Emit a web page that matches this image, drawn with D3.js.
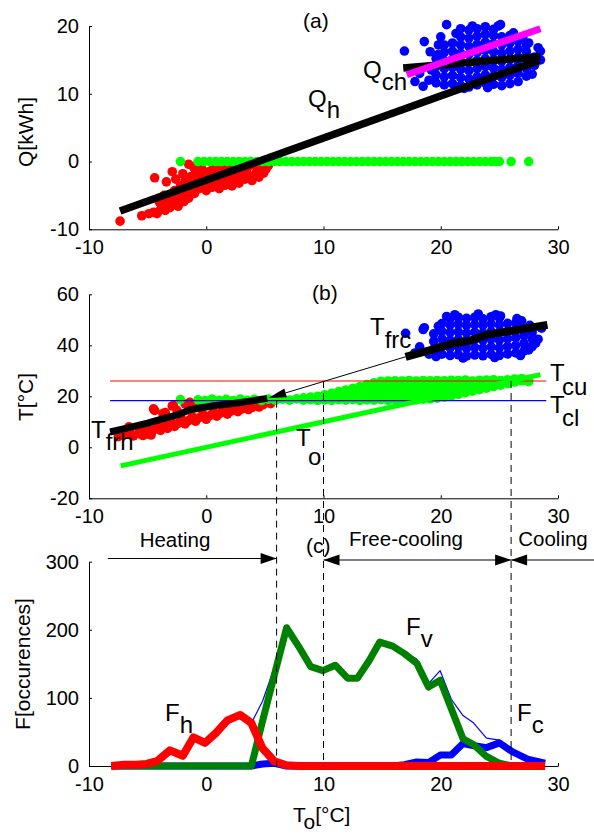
<!DOCTYPE html>
<html><head><meta charset="utf-8">
<script src="https://cdn.jsdelivr.net/npm/d3@7"></script>
<style>
body{margin:0;background:#fff}
svg{display:block}
text{font-family:"Liberation Sans",Arial,sans-serif;fill:#000}
</style>
</head><body><svg id="c" width="594" height="834"></svg>
<script>
// ---------------- data ----------------
const xTicks = [-10, 0, 10, 20, 30];
const yTicksA = [-10, 0, 10, 20];
const yTicksB = [-20, 0, 20, 40, 60];
const yTicksC = [0, 100, 200, 300];

// panel (a): Q vs To
const redA = [
[-7.35,-8.8],[-5.5,-8.0],[-4.9,-7.7],[-4.5,-7.5],[-4.2,-7.7],[-4.4,-2.4],[-3.4,-3.0],[-2.9,-1.5],[-1.5,-0.4],[-2.0,-1.8],
[-3.9,-7.1],[-3.7,-6.4],[-3.5,-7.2],[-3.3,-5.9],[-3.1,-6.8],[-3.0,-5.0],[-2.8,-6.3],[-2.7,-4.3],[-2.5,-5.6],[-2.4,-6.6],
[-2.2,-3.6],[-2.1,-4.8],[-1.9,-5.9],[-1.8,-2.9],[-1.6,-4.1],[-1.5,-5.4],[-1.3,-2.2],[-1.2,-3.4],[-1.0,-4.7],[-0.9,-1.5],
[-0.7,-2.8],[-0.6,-4.0],[-0.4,-1.0],[-0.3,-2.1],[-0.1,-3.4],[0.0,-4.3],[0.2,-1.5],[0.3,-2.7],[0.5,-3.8],[0.6,-0.8],
[0.8,-2.0],[0.9,-3.1],[1.1,-4.0],[1.2,-1.3],[1.4,-2.5],[1.6,-3.5],[1.7,-0.7],[1.9,-1.8],[2.1,-2.9],[2.2,-3.6],
[2.4,-1.2],[2.6,-2.3],[2.8,-3.2],[2.9,-0.6],[3.1,-1.7],[3.3,-2.6],[3.5,-1.0],[3.7,-2.1],[3.9,-2.8],[4.1,-0.5],
[4.3,-1.5],[4.5,-2.3],[4.7,-0.9],[4.9,-1.7],[5.1,-1.1],[5.3,-0.6],[-0.5,-0.3],[0.7,-0.2],[1.8,-0.3],[3.0,-0.2],
[-2.6,-2.6],[-3.6,-5.0],[-4.0,-6.0],[-1.1,-0.8]
];
const greenAx = [-2.2,-0.7,-0.2,0.3,0.8,1.3,1.8,2.3,2.8,3.3,3.8,4.3,4.8,5.3,5.8,6.3,6.8,7.3,7.8,8.3,8.8,9.3,9.8,10.3,10.8,
11.3,11.8,12.3,12.8,13.3,13.8,14.3,14.8,15.3,15.8,16.3,16.8,17.3,17.8,18.3,18.8,19.3,19.8,20.3,20.8,21.3,21.8,22.3,22.8,
23.3,23.8,24.3,24.6,25.0,26.0,27.5];
const greenAq = 0;
const blueA = [
[16.9,16.3],[18.6,17.7],[19.8,17.2],[20.5,20.2],[21.7,19.6],[25.1,20.2],[27.5,17.5],[28.5,16.3],[28.5,15.0],[17.8,11.8],[18.5,11.1],[18.2,13.0],[19.0,12.0],[19.8,15.8],
[19.2,13.5],[20.0,18.4],[21.3,18.9],[22.0,10.8],[24.0,10.9],[26.2,19.0],[27.0,18.3],[27.8,12.9],[28.3,16.8],[22.7,20.0],[24.9,20.0],[19.1,16.2],
[19.6,11.6],[19.6,12.8],[19.6,14.0],[19.6,15.2],
[20.3,11.3],[20.3,12.5],[20.3,13.7],[20.3,14.9],[20.3,16.1],[20.3,17.2],
[21.0,11.5],[21.0,12.7],[21.0,13.9],[21.0,15.1],[21.0,16.3],[21.0,17.5],
[21.7,11.2],[21.7,12.4],[21.7,13.6],[21.7,14.8],[21.7,16.0],[21.7,17.2],[21.7,18.4],
[22.4,11.0],[22.4,12.2],[22.4,13.4],[22.4,14.6],[22.4,15.8],[22.4,17.0],[22.4,18.2],[22.4,19.4],
[23.1,11.3],[23.1,12.5],[23.1,13.7],[23.1,14.9],[23.1,16.1],[23.1,17.3],[23.1,18.5],[23.1,19.6],
[23.8,11.6],[23.8,12.8],[23.8,14.0],[23.8,15.2],[23.8,16.4],[23.8,17.6],[23.8,18.8],[23.8,19.9],
[24.5,11.4],[24.5,12.6],[24.5,13.8],[24.5,15.0],[24.5,16.2],[24.5,17.4],[24.5,18.6],[24.5,19.5],
[25.2,11.2],[25.2,12.4],[25.2,13.6],[25.2,14.8],[25.2,16.0],[25.2,17.2],[25.2,18.4],
[25.9,11.5],[25.9,12.7],[25.9,13.9],[25.9,15.1],[25.9,16.3],[25.9,17.5],[25.9,18.6],
[26.6,11.8],[26.6,13.0],[26.6,14.2],[26.6,15.4],[26.6,16.6],[26.6,17.8],
[27.3,12.6],[27.3,13.8],[27.3,15.0],[27.3,16.2],[27.3,17.2],
[28.0,14.2],[28.0,15.4]
];
const qhLine = [[-7.35,-7.3],[28.4,14.9]];
const qchLine = [[16.8,13.8],[28.5,15.5]];
const magLine = [[17.1,12.8],[28.5,19.6]];

// panel (b): T vs To
const redB = [
[-7.5,4.2],[-7.0,5.0],[-6.5,5.8],[-6.2,4.5],[-5.8,5.3],[-5.4,4.6],[-5.0,5.2],[-4.7,4.8],[-5.7,7.2],[-5.1,7.8],
[-4.5,6.8],[-4.2,8.4],[-3.9,6.6],[-3.6,9.0],[-3.3,7.4],[-3.0,10.0],[-2.7,8.2],[-2.4,9.4],[-2.1,11.0],[-1.8,9.2],
[-1.5,10.5],[-1.2,12.0],[-0.9,10.2],[-0.6,11.6],[-0.3,13.0],[0.0,11.0],[0.3,12.4],[0.6,13.8],[0.9,12.2],[1.2,13.4],
[1.5,14.8],[1.8,13.0],[2.1,14.2],[2.4,15.6],[2.7,14.0],[3.0,15.0],[3.3,16.2],[3.6,14.8],[3.9,15.6],[4.2,16.8],
[4.5,15.8],[4.8,16.6],[5.1,17.4],[5.5,17.1],
[-4.4,14.5],[-3.5,13.6],[-2.9,16.2],[-1.8,17.0],[-1.4,17.6],[-1.0,16.5],[-0.5,17.2],[-2.5,14.5],[-0.2,16.4],[-6.6,8.0],
[-3.7,13.2],[-4.5,15.1],[-2.8,16.4]
];
const greenB = [
[-2.2,18.7],[-0.7,18.6],[-0.1,18.3],[0.5,18.9],[1.1,18.4],[1.7,18.8],[2.3,18.3],[2.9,18.9],[3.5,18.4],[4.1,18.8],
[4.7,18.3],[5.3,18.9],[5.9,18.4],[6.5,18.9],[7.1,18.5],[7.7,19.0],
[8.3,18.5],[8.3,19.4],[8.9,18.7],[8.9,19.7],[9.5,18.4],[9.5,20.0],[10.1,18.6],[10.1,20.6],[10.7,18.4],[10.7,21.2],
[11.3,18.7],[11.3,20.4],[11.3,21.9],[11.9,18.5],[11.9,20.5],[11.9,22.5],[12.5,18.7],[12.5,20.9],[12.5,23.1],
[13.1,18.4],[13.1,20.8],[13.1,23.8],[13.7,18.6],[13.7,21.2],[13.7,23.6],[13.7,24.6],
[14.3,18.5],[14.3,21.0],[14.3,23.5],[14.3,25.3],[14.9,18.7],[14.9,21.3],[14.9,23.9],[14.9,25.9],
[15.5,18.4],[15.5,21.0],[15.5,23.6],[15.5,26.0],[16.1,18.7],[16.1,21.3],[16.1,23.9],[16.1,26.1],
[16.7,18.5],[16.7,21.1],[16.7,23.7],[16.7,26.0],[17.3,18.8],[17.3,21.4],[17.3,24.0],[17.3,26.2],
[17.9,18.6],[17.9,21.2],[17.9,23.8],[17.9,26.0],[18.5,18.9],[18.5,21.5],[18.5,24.1],[18.5,26.2],
[19.1,19.0],[19.1,21.6],[19.1,24.0],[19.1,26.1],[19.7,19.3],[19.7,21.8],[19.7,24.3],[19.7,26.2],
[20.3,19.7],[20.3,22.1],[20.3,24.5],[20.3,26.1],[20.9,20.2],[20.9,22.6],[20.9,24.8],[20.9,26.3],
[21.5,20.8],[21.5,23.1],[21.5,25.2],[21.5,26.2],[22.1,21.4],[22.1,23.6],[22.1,25.5],[22.1,26.4],
[22.7,22.0],[22.7,24.1],[22.7,26.0],[23.3,22.6],[23.3,24.6],[23.3,26.3],[23.9,23.2],[23.9,25.0],[23.9,26.4],
[24.5,23.8],[24.5,25.5],[24.5,26.5],[25.1,24.4],[25.1,26.2],[25.7,25.0],[25.7,26.5],[26.3,25.6],[26.3,26.8],
[26.9,26.1],[26.9,27.0],[27.5,26.6],[27.5,25.8]
];
const blueB = [
[18.6,46.9],[20.5,51.3],[25.1,51.5],[18.2,39.4],[28.3,42.4],[28.6,46.7],[17.8,37.0],[19.0,36.5],[26.5,50.5],[17.0,44.7],[18.5,46.2],
[19.8,47.5],[21.2,52.0],[23.2,52.3],[24.7,52.0],[26.9,49.6],[27.6,47.8],[28.1,40.9],[19.6,35.6],[21.9,35.0],[24.6,35.2],[26.8,36.0],[27.5,38.2],
[19.4,38.5],[19.4,41.5],[19.4,44.5],
[20.1,36.5],[20.1,39.5],[20.1,42.5],[20.1,45.5],[20.1,48.5],
[20.8,36.0],[20.8,39.0],[20.8,42.0],[20.8,45.0],[20.8,48.0],[20.8,50.5],
[21.5,36.3],[21.5,39.3],[21.5,42.3],[21.5,45.3],[21.5,48.3],[21.5,51.0],
[22.2,35.8],[22.2,38.8],[22.2,41.8],[22.2,44.8],[22.2,47.8],[22.2,50.6],
[22.9,36.2],[22.9,39.2],[22.9,42.2],[22.9,45.2],[22.9,48.2],[22.9,51.0],
[23.6,35.9],[23.6,38.9],[23.6,41.9],[23.6,44.9],[23.6,47.9],[23.6,50.4],
[24.3,36.4],[24.3,39.4],[24.3,42.4],[24.3,45.4],[24.3,48.4],[24.3,51.2],
[25.0,36.0],[25.0,39.0],[25.0,42.0],[25.0,45.0],[25.0,48.0],[25.0,50.8],
[25.7,36.6],[25.7,39.6],[25.7,42.6],[25.7,45.6],[25.7,48.6],
[26.4,37.0],[26.4,40.0],[26.4,43.0],[26.4,46.0],[26.4,48.8],
[27.1,37.8],[27.1,40.8],[27.1,43.8],[27.1,46.8],
[27.8,39.5],[27.8,42.5],[27.8,45.0]
];
const toLine = [[-7.3,-7.3],[28.5,28.5]];
const tcu = 26.0, tcl = 18.3;
const limitSpan = [-8.2, 29.0];
const tfrh = [[-8.2,6.0],[-6.6,7.7],[-5.0,9.5],[-3.6,11.3],[-2.3,12.9],[-1.5,14.6],[-0.5,15.4],[0.6,16.3],[2.3,17.2],[3.9,18.2],[5.2,19.2]];
const tfrc = [[17.0,35.5],[19.1,38.1],[21.1,40.8],[22.5,41.8],[23.9,44.1],[26.2,45.8],[29.1,48.0]];
const frcArrow = [[17.0,35.5],[5.3,19.3]];

// switch points (dashed lines)
const dashX = [6, 10, 26];
const dashTop = [18.3, 26, 26];

// panel (c): histograms
const binsC = [-8.1,-7.0,-6.0,-5.1,-4.2,-3.1,-2.0,-1.1,-0.1,0.8,1.8,2.9,3.85,4.8,5.8,6.85,7.9,8.9,9.95,11.0,12.05,12.9,13.9,14.8,15.9,16.9,17.95,18.95,19.95,20.9,21.9,22.75,23.9,25.0,26.1,27.4,28.9];
const fh  = [0,2,2,3,7,23,15,42,34,48,67,75,63,26,7,1,0,0,0,0,0,0,0,0,0,0,0,0,0,0,0,0,0,0,0,0,0];
const fv  = [0,0,0,0,0,0,0,0,0,0,0,0,0,66,133,203,175,146,140,148,129,129,155,182,176,165,151,116,126,84,40,32,14,4,0,0,0];
const fc  = [0,0,0,0,0,0,0,0,0,0,0,0,0,3,4,0,0,0,0,0,0,0,0,0,0,2,6,5,16,16,33,30,27,34,21,10,4];
const ftot= [0,2,2,3,7,23,15,42,34,48,67,75,63,95,144,203,175,146,140,148,129,129,155,182,176,167,157,121,140,98,74,64,41,38,21,10,4];

const regions = [
  {name:"Heating", from:-8.4, to:6, heads:["end"]},
  {name:"Free-cooling", from:10, to:26, heads:["start","end"]},
  {name:"Cooling", from:33.1, to:26, heads:["end"]}
];

// ---------------- drawing ----------------
const svg = d3.select('#c');
const X  = d3.scaleLinear().domain([-10,30]).range([89,558]);
const Ya = d3.scaleLinear().domain([-10,20]).range([229.3,26]);
const Yb = d3.scaleLinear().domain([-20,60]).range([498.3,294.3]);
const Yc = d3.scaleLinear().domain([0,300]).range([766,561.7]);
const FONT = '"Liberation Sans", Arial, sans-serif';
const R = 4.8;

function drawAxes(Y, yt) {
  const gx = svg.append('g').attr('transform', `translate(0,${Y.range()[0]})`)
    .call(d3.axisBottom(X).tickValues(xTicks).tickSize(-3).tickSizeOuter(0).tickPadding(11).tickFormat(d => String(d)));
  const gy = svg.append('g').attr('transform', `translate(${X.range()[0]},0)`)
    .call(d3.axisLeft(Y).tickValues(yt).tickSize(-3).tickSizeOuter(0).tickPadding(10).tickFormat(d => String(d)));
  [gx, gy].forEach(g => {
    g.attr('font-size', 20).attr('font-family', FONT);
    g.selectAll('path,line').attr('stroke', '#000').attr('stroke-width', 1);
    g.selectAll('text').attr('fill', '#000');
  });
}
function dots(data, Y, color) {
  svg.append('g').selectAll('circle').data(data).join('circle')
    .attr('cx', d => X(d[0])).attr('cy', d => Y(d[1])).attr('r', R).attr('fill', color);
}
function path(data, Y, color, w) {
  svg.append('path').datum(data)
    .attr('d', d3.line().x(d => X(d[0])).y(d => Y(d[1])))
    .attr('fill', 'none').attr('stroke', color).attr('stroke-width', w)
    .attr('stroke-linejoin', 'round').attr('stroke-linecap', 'butt');
}
function label(x, y, main, sub, size, dy) {
  const t = svg.append('text').attr('x', x).attr('y', y).attr('font-size', size);
  t.append('tspan').text(main);
  t.append('tspan').attr('dy', dy).text(sub);
  return t;
}
function head(x, y, dir, len, hw) {
  svg.append('path')
    .attr('d', `M${x},${y}L${x - dir*len},${y - hw}L${x - dir*len},${y + hw}Z`)
    .attr('fill', '#000');
}

// ---- panel (a)
drawAxes(Ya, yTicksA);
dots(redA, Ya, '#ff0000');
dots(greenAx.map(x => [x, greenAq]), Ya, '#00ff00');
dots(blueA, Ya, '#0000ff');
path(qhLine, Ya, '#000', 7.5);
path(qchLine, Ya, '#000', 7.5);
path(magLine, Ya, '#ff00ff', 7);
svg.append('text').attr('x', 303).attr('y', 28).attr('font-size', 21).text('(a)');
label(363, 78, 'Q', 'ch', 24, 12);
label(308, 107, 'Q', 'h', 24, 11);

// ---- panel (b)
drawAxes(Yb, yTicksB);
dots(redB, Yb, '#ff0000');
dots(greenB, Yb, '#00ff00');
dots(blueB, Yb, '#0000ff');
path(limitSpan.map(x => [x, tcu]), Yb, '#ff0000', 1.2);
path(limitSpan.map(x => [x, tcl]), Yb, '#0000ff', 1.2);
path(toLine, Yb, '#00ff00', 5);
path(tfrh, Yb, '#000', 7);
path(tfrc, Yb, '#000', 8);
// thin arrow linking Tfrc to Tfrh
{
  const [a, b] = frcArrow;
  const x1 = X(a[0]), y1 = Yb(a[1]), x2 = X(b[0]), y2 = Yb(b[1]);
  const ang = Math.atan2(y2 - y1, x2 - x1), L = 18, H = 4.5;
  const bx = x2 - L*Math.cos(ang), by = y2 - L*Math.sin(ang);
  svg.append('line').attr('x1', x1).attr('y1', y1).attr('x2', bx).attr('y2', by).attr('stroke', '#000').attr('stroke-width', 1);
  svg.append('path').attr('d', `M${x2},${y2}L${bx - H*Math.sin(ang)},${by + H*Math.cos(ang)}L${bx + H*Math.sin(ang)},${by - H*Math.cos(ang)}Z`).attr('fill', '#000');
}
svg.append('text').attr('x', 312).attr('y', 300).attr('font-size', 21).text('(b)');
label(370, 335, 'T', 'frc', 24, 13);
label(550, 381, 'T', 'cu', 24, 14);
label(550, 413, 'T', 'cl', 24, 13);
label(296, 446, 'T', 'o', 24, 19);
label(91, 438, 'T', 'frh', 24, 12);

// ---- panel (c)
drawAxes(Yc, yTicksC);
const series = (vals) => binsC.map((x, i) => [x, vals[i]]);
path(series(ftot), Yc, '#0000ff', 1.2);
path(series(fc), Yc, '#0000ff', 7);
path(series(fv), Yc, '#008000', 7);
path(series(fh), Yc, '#ff0000', 8);
label(165, 721, 'F', 'h', 24, 12);
label(406, 635, 'F', 'v', 24, 12);
label(517, 721, 'F', 'c', 24, 12);

// dashed switch lines
dashX.forEach((x, i) => {
  svg.append('line').attr('x1', X(x)).attr('x2', X(x)).attr('y1', Yb(dashTop[i])).attr('y2', Yc(0))
    .attr('stroke', '#000').attr('stroke-width', 1).attr('stroke-dasharray', '7,5');
});

// region arrows
const arrowY = [558.5, 560, 560];
regions.forEach((r, i) => {
  const x1 = X(r.from), x2 = X(r.to), y = arrowY[i];
  svg.append('line').attr('x1', x1).attr('x2', x2).attr('y1', y).attr('y2', y).attr('stroke', '#000').attr('stroke-width', 1);
  const dir = Math.sign(x2 - x1);
  if (r.heads.includes('end')) head(x2, y, dir, 16, 5.5);
  if (r.heads.includes('start')) head(x1, y, -dir, 16, 5.5);
});
svg.append('text').attr('x', 175).attr('y', 547).attr('font-size', 20.5).attr('text-anchor', 'middle').text('Heating');
svg.append('text').attr('x', 406).attr('y', 546).attr('font-size', 20.5).attr('text-anchor', 'middle').text('Free-cooling');
svg.append('text').attr('x', 553).attr('y', 546).attr('font-size', 20.5).attr('text-anchor', 'middle').text('Cooling');
svg.append('text').attr('x', 306).attr('y', 553).attr('font-size', 21).text('(c)');

// axis labels
svg.append('text').attr('transform', 'translate(32.5,132) rotate(-90)').attr('text-anchor', 'middle').attr('font-size', 21).text('Q[kWh]');
svg.append('text').attr('transform', 'translate(32.5,397) rotate(-90)').attr('text-anchor', 'middle').attr('font-size', 21).text('T[°C]');
svg.append('text').attr('transform', 'translate(29.5,664) rotate(-90)').attr('text-anchor', 'middle').attr('font-size', 21).text('F[occurences]');
{
  const t = svg.append('text').attr('x', 293).attr('y', 822).attr('font-size', 21);
  t.append('tspan').text('T');
  t.append('tspan').attr('dy', 7).text('o');
  t.append('tspan').attr('dy', -7).text('[°C]');
}
</script></body></html>
